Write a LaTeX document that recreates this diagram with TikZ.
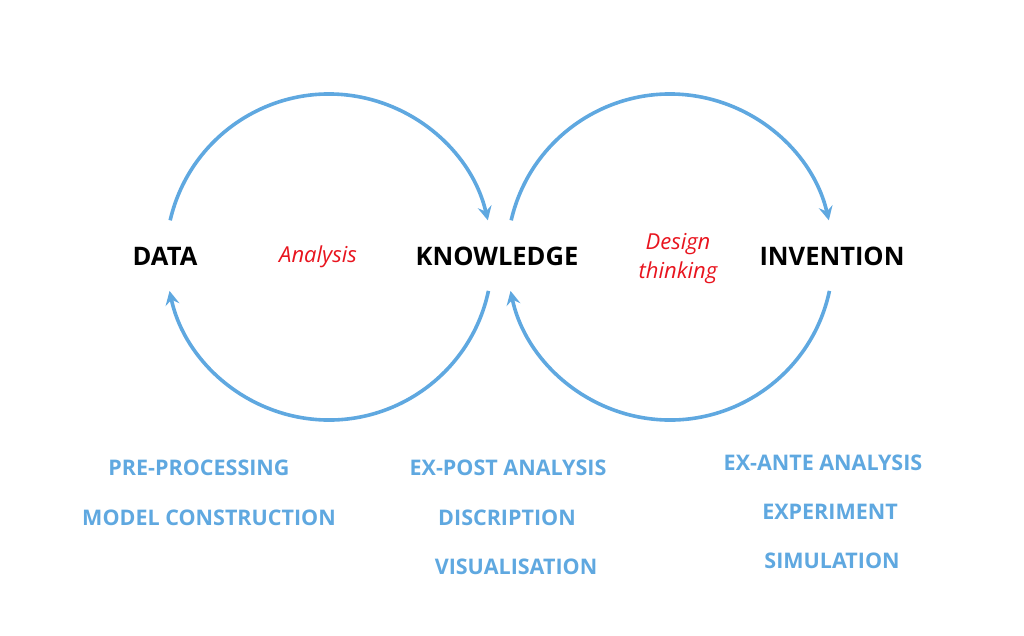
\documentclass[tikz,border=0pt]{standalone}
\usepackage{fontspec}
\setmainfont{Open Sans}
\usetikzlibrary{arrows.meta}
\definecolor{arcblue}{HTML}{5FA8E0}
\definecolor{lblblue}{HTML}{5FA8E0}
\definecolor{redtxt}{HTML}{E8141E}
\begin{document}
\begin{tikzpicture}[x=1pt,y=-1pt,
  arc/.style={draw=arcblue,line width=3.6pt,-{Stealth[length=14pt,width=14pt,inset=5pt]}},
  mainlbl/.style={font=\fontsize{25.5}{30}\selectfont\bfseries,text=black,inner sep=0pt},
  redlbl/.style={font=\fontsize{22}{29}\selectfont\itshape,text=redtxt,inner sep=0pt,align=center},
  bluelbl/.style={font=\fontsize{21.5}{26}\selectfont\bfseries,text=lblblue,inner sep=0pt}]
\useasboundingbox (0,0) rectangle (1024,635);
\coordinate (c1) at (329,257);
\coordinate (c2) at (670,257);
% left circle
\draw[arc] ([shift={(167:163pt)}]c1) arc[start angle=167,end angle=13,radius=163pt];
\draw[arc] ([shift={(-12:163pt)}]c1) arc[start angle=-12,end angle=-168,radius=163pt];
% right circle
\draw[arc] ([shift={(167:163pt)}]c2) arc[start angle=167,end angle=13,radius=163pt];
\draw[arc] ([shift={(-12:163pt)}]c2) arc[start angle=-12,end angle=-168,radius=163pt];
\node[mainlbl] (data) at (165,256) {DATA};
\node[mainlbl] (know) at (497,256) {KNOWLEDGE};
\node[mainlbl] (inv) at (832,256) {INVENTION};
\node[redlbl] (ana) at (318,257) {Analysis};
\node[redlbl] (des) at (678,259) {Design\\thinking};
\node[bluelbl] (pre) at (199,468) {PRE-PROCESSING};
\node[bluelbl] (mod) at (209,518) {MODEL CONSTRUCTION};
\node[bluelbl] (expost) at (508,468) {EX-POST ANALYSIS};
\node[bluelbl] (disc) at (507,518) {DISCRIPTION};
\node[bluelbl] (vis) at (516,567) {VISUALISATION};
\node[bluelbl] (exante) at (823,463) {EX-ANTE ANALYSIS};
\node[bluelbl] (expe) at (830,512) {EXPERIMENT};
\node[bluelbl] (sim) at (832,561) {SIMULATION};
\end{tikzpicture}
\end{document}
